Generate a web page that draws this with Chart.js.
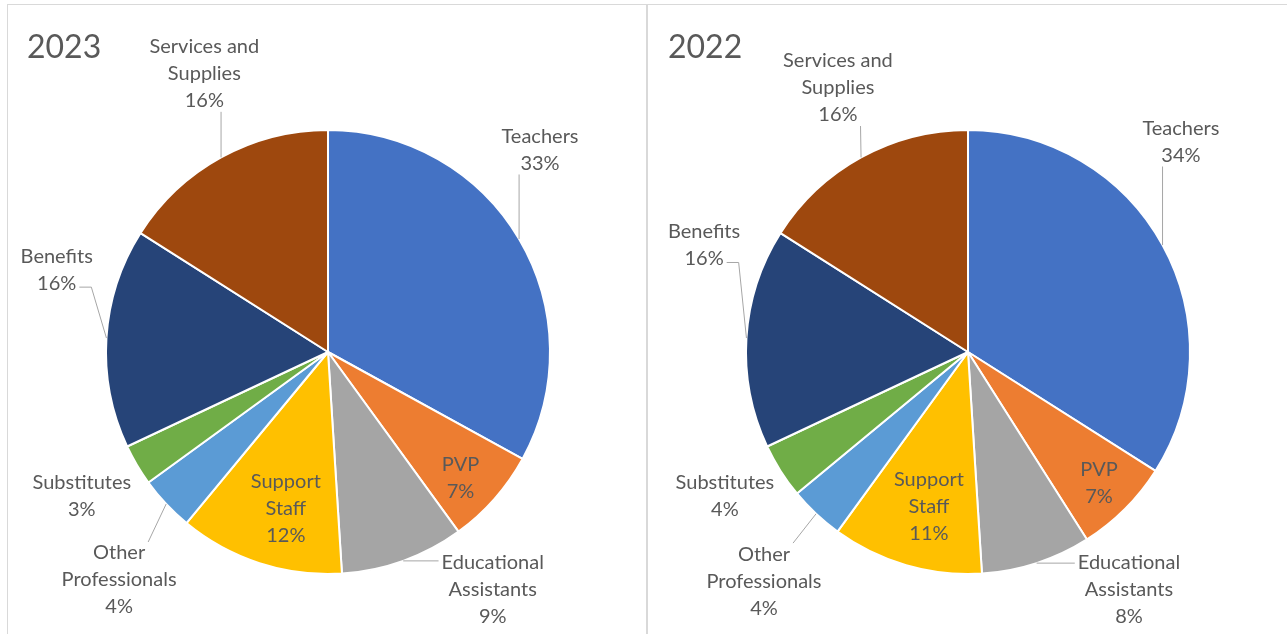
<!DOCTYPE html>
<html>
<head>
<meta charset="utf-8">
<script src="https://cdn.jsdelivr.net/npm/chart.js@4"></script>
<style>
  body { margin: 0; background: #fff; }
  #wrap { position: relative; width: 1287px; height: 634px; overflow: hidden; }
  .ln { position: absolute; background: #d9d9d9; }
  canvas { position: absolute; }
</style>
</head>
<body>
<div id="wrap">
  <div class="ln" style="left:7px;top:4px;width:1280px;height:1px"></div>
  <div class="ln" style="left:7px;top:4px;width:1px;height:630px"></div>
  <div class="ln" style="left:646px;top:4px;width:2px;height:630px"></div>
  <canvas id="c2023" width="638" height="628" style="left:8px;top:6px"></canvas>
  <canvas id="c2022" width="638" height="628" style="left:649px;top:6px"></canvas>
</div>
<script>
const categories = ["Teachers", "PVP", "Educational Assistants", "Support Staff",
  "Other Professionals", "Substitutes", "Benefits", "Services and Supplies"];
const values2023 = [33, 7, 9, 12, 4, 3, 16, 16];
const values2022 = [34, 7, 8, 11, 4, 4, 16, 16];

const colors = ["#4472C4", "#ED7D31", "#A5A5A5", "#FFC000",
  "#5B9BD5", "#70AD47", "#264478", "#9E480E"];

// how each category name wraps in its label
const labelLines = [["Teachers"], ["PVP"], ["Educational", "Assistants"], ["Support", "Staff"],
  ["Other", "Professionals"], ["Substitutes"], ["Benefits"], ["Services and", "Supplies"]];

// label centres relative to the pie centre, in radii
const labelPos2023 = [[0.955, -0.91], [0.597, 0.57], [0.742, 1.068], [-0.19, 0.706],
  [-0.941, 1.027], [-1.109, 0.647], [-1.222, -0.371], [-0.557, -1.253]];
const labelPos2022 = [[0.959, -0.946], [0.59, 0.59], [0.725, 1.072], [-0.176, 0.694],
  [-0.919, 1.032], [-1.095, 0.649], [-1.189, -0.482], [-0.586, -1.189]];

const FONT = "Lato, 'Open Sans', sans-serif";
const clamp = (v, a, b) => Math.max(a, Math.min(b, v));

const pieLabels = {
  id: "pieLabels",
  afterDatasetsDraw(chart, args, opts) {
    const ctx = chart.ctx;
    const arcs = chart.getDatasetMeta(0).data;
    const vals = chart.data.datasets[0].data;
    const total = vals.reduce((a, b) => a + b, 0);
    ctx.save();
    ctx.fillStyle = "#595959";
    ctx.textBaseline = "middle";
    ctx.textAlign = "left";
    ctx.font = "32px " + FONT;
    ctx.fillText(opts.title, opts.titleX, 42);

    ctx.font = "20px " + FONT;
    ctx.textAlign = "center";
    const lh = 27;
    arcs.forEach((arc, i) => {
      const p = arc.getProps(["x", "y", "startAngle", "endAngle", "outerRadius"], true);
      const r = p.outerRadius;
      const mid = (p.startAngle + p.endAngle) / 2;
      const lines = labelLines[i].concat(Math.round(vals[i] / total * 100) + "%");
      const dx = opts.pos[i][0], dy = opts.pos[i][1];
      const cx = p.x + dx * r;
      const cy = p.y + dy * r;
      const top = cy - lines.length * lh / 2;

      if (Math.hypot(dx, dy) > 1) {
        // leader: from the arc's middle to the nearest text line of the label
        const ax = p.x + Math.cos(mid) * r, ay = p.y + Math.sin(mid) * r;
        let best = null;
        lines.forEach((t, k) => {
          const hw = ctx.measureText(t).width / 2 + 3;
          const ly = top + lh * (k + 0.5);
          const px = clamp(ax, cx - hw, cx + hw);
          const py = clamp(ay, ly - 11, ly + 11);
          const d = Math.hypot(ax - px, ay - py);
          if (!best || d < best.d) best = { d, px, py, ly, side: px !== ax };
        });
        if (best.d > 15) {
          ctx.strokeStyle = "#a6a6a6";
          ctx.lineWidth = 1;
          ctx.beginPath();
          if (best.side && Math.abs(dx) > Math.abs(dy)) {
            const dir = ax > best.px ? 1 : -1;
            ctx.moveTo(best.px, best.ly + 4);
            ctx.lineTo(best.px + dir * 12, best.ly + 4);
          } else {
            ctx.moveTo(best.px, best.py);
          }
          ctx.lineTo(ax, ay);
          ctx.stroke();
        }
      }
      ctx.fillStyle = "#595959";
      lines.forEach((t, k) => ctx.fillText(t, cx, top + lh * (k + 0.5)));
    });
    ctx.restore();
  }
};

function makePie(id, values, title, pos, padLeft, padRight) {
  return new Chart(document.getElementById(id).getContext("2d"), {
    type: "pie",
    data: {
      labels: categories,
      datasets: [{
        data: values,
        backgroundColor: colors,
        borderColor: "#ffffff",
        borderWidth: 2,
      }],
    },
    options: {
      responsive: false,
      animation: false,
      events: [],
      layout: { padding: { left: padLeft, right: padRight, top: 123, bottom: 59 } },
      plugins: {
        legend: { display: false },
        tooltip: { enabled: false },
        pieLabels: { title: title, titleX: 19, pos: pos },
      },
    },
    plugins: [pieLabels],
  });
}

makePie("c2023", values2023, "2023", labelPos2023, 97, 95);
makePie("c2022", values2022, "2022", labelPos2022, 96, 96);
</script>
</body>
</html>
